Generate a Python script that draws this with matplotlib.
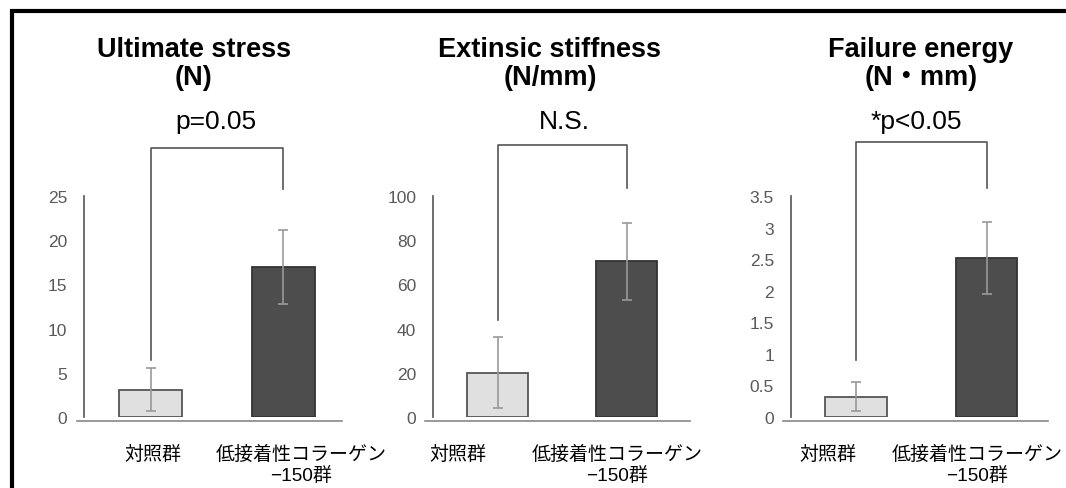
import matplotlib.pyplot as plt
from matplotlib.patches import Rectangle

plt.rcParams["font.family"] = ["Liberation Sans", "Noto Sans CJK JP", "DejaVu Sans"]

W, H = 1066, 489

# data
titles = ["Ultimate stress\n(N)", "Extinsic stiffness\n(N/mm)", "Failure energy\n(N・mm)"]
groups = ["対照群", "低接着性コラーゲン\n−150群"]
means = [[3.1, 17.0], [20.0, 70.5], [0.32, 2.52]]
errors = [[2.4, 4.2], [16.0, 17.5], [0.23, 0.57]]
yticks = [[0, 5, 10, 15, 20, 25],
          [0, 20, 40, 60, 80, 100],
          [0, 0.5, 1, 1.5, 2, 2.5, 3, 3.5]]
ytick_labels = [["0", "5", "10", "15", "20", "25"],
                ["0", "20", "40", "60", "80", "100"],
                ["0", "0.5", "1", "1.5", "2", "2.5", "3", "3.5"]]
ymax = [25, 100, 3.5]
stat_labels = ["p=0.05", "N.S.", "*p<0.05"]
bracket_low = [6.4, 44.0, 0.9]
bracket_high = [25.8, 103.6, 3.63]
bracket_top = [30.4, 123.0, 4.36]

# layout (pixels of the reference)
ax_left = [77, 425, 783]
ax_right = [342, 690, 1048]
xlims = [(-0.553, 1.440), (-0.562, 1.492), (-0.559, 1.471)]
label_pos = [[0.02, 1.135], [-0.31, 0.926], [-0.215, 0.93]]
title_x = [194, 550, 921]
stat_x = [216, 564, 916]
bar_colors = ["#e0e0e0", "#4d4d4d"]
edge_colors = ["#555555", "#333333"]


def fx(x):
    return x / W


def fy(y):
    return 1 - y / H


fig = plt.figure(figsize=(W / 100, H / 100), dpi=100)

# frame around the whole figure (bottom and right run off the image)
fig.patches.append(Rectangle((fx(12), fy(560)), fx(1100), fy(12) - fy(560),
                             transform=fig.transFigure, fill=False,
                             edgecolor="black", linewidth=3))

for i in range(3):
    ax = fig.add_axes([fx(ax_left[i]), fy(418), fx(ax_right[i] - ax_left[i]), (418 - 197) / H])
    ax.bar([0, 1], means[i], width=0.47, color=bar_colors,
           edgecolor=edge_colors, linewidth=1.3, zorder=2)
    ax.errorbar([0, 1], means[i], yerr=errors[i], fmt="none", ecolor="#999999",
                elinewidth=1.2, capsize=3.5, capthick=1.2, zorder=3)

    ax.set_xlim(*xlims[i])
    ax.set_ylim(0, ymax[i])
    ax.tick_params(axis="both", length=0)
    ax.tick_params(axis="y", pad=12, labelcolor="#595959", labelsize=12.5)
    ax.tick_params(axis="x", pad=17, labelcolor="black", labelsize=13.7)
    ax.set_yticks(yticks[i])
    ax.set_yticklabels(ytick_labels[i])
    ax.set_xticks(label_pos[i])
    ax.set_xticklabels(groups)
    for lab in ax.get_xticklabels():
        lab.set_linespacing(1.0)
        lab.set_fontweight("medium")

    for s in ["top", "right"]:
        ax.spines[s].set_visible(False)
    ax.spines["left"].set_position(("data", -0.5))
    ax.spines["left"].set_color("#555555")
    ax.spines["left"].set_linewidth(1.2)
    ax.spines["bottom"].set_position(("outward", 3))
    ax.spines["bottom"].set_color("#888888")
    ax.spines["bottom"].set_linewidth(1.2)

    # significance bracket
    ax.plot([0, 0, 1, 1], [bracket_low[i], bracket_top[i], bracket_top[i], bracket_high[i]],
            color="#555555", linewidth=1.2, clip_on=False)

    fig.text(fx(title_x[i]), fy(64), titles[i], ha="center", va="center",
             fontsize=19.5, fontweight="bold", linespacing=1.1)
    fig.text(fx(stat_x[i]), fy(122), stat_labels[i], ha="center", va="center",
             fontsize=19)

fig.savefig("out.png", dpi=100)
